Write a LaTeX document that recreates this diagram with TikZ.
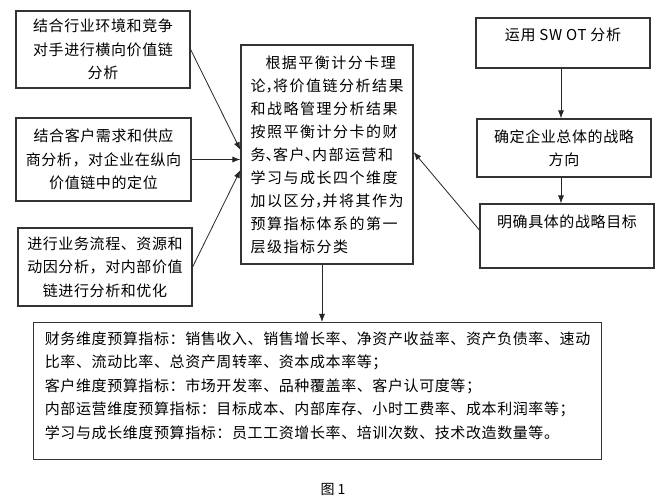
\documentclass[tikz,border=0pt]{standalone}
\usepackage{fontspec}
\setmainfont{Noto Sans CJK SC}
\newfontfamily\boxfont[LetterSpace=4]{Noto Sans CJK SC}
\newfontfamily\widefont[LetterSpace=10]{Noto Sans CJK SC}
\usetikzlibrary{arrows.meta}
\newcommand{\halfpunct}[1]{\makebox[0.5em][l]{#1}}
\tikzset{
	box/.style={draw=black!80, line width=1.2pt, align=center, inner sep=0pt,
		font=\boxfont\fontsize{15pt}{23.5pt}\selectfont},
	arr/.style={-{Latex[length=8pt,width=6pt]}, line width=0.8pt, draw=black!85},
}

\begin{document}
\begin{tikzpicture}[x=1pt, y=-1pt]
			%%%%% START %%%%%
			\path[use as bounding box, fill=white] (0, 0) rectangle (657, 500);
			
			%%%%% LEFT %%%%%
			\node[box, minimum width=174pt, minimum height=77pt] (hori) at (103, 49.5) {结合行业环境和竞争\\对手进行横向价值链\\分析};
			\node[box, minimum width=175pt, minimum height=83pt] (vert) at (103.5, 159.5) {结合客户需求和供应\\商分析，对企业在纵向\\价值链中的定位};
			\node[box, minimum width=174pt, minimum height=78pt] (inner) at (105, 267) {进行业务流程、资源和\\动因分析，对内部价值\\链进行分析和优化};
			
			%%%%% CENTER %%%%%
			\node[box, minimum width=172pt, minimum height=219pt, align=left,
				font=\widefont\fontsize{15pt}{23pt}\selectfont] (core) at (327, 154.5)
				{\hspace*{1em}根据平衡计分卡理\\论\halfpunct{，}将价值链分析结果\\和战略管理分析结果\\按照平衡计分卡的财\\务\halfpunct{、}客户\halfpunct{、}内部运营和\\学习与成长四个维度\\加以区分\halfpunct{，}并将其作为\\预算指标体系的第一\\层级指标分类};
			
			%%%%% RIGHT %%%%%
			\node[box, minimum width=174pt, minimum height=50pt, text depth=18pt] (swot) at (563, 43) {运用 SW OT 分析};
			\node[box, minimum width=174pt, minimum height=58pt] (dir) at (564, 148) {确定企业总体的战略\\方向};
			\node[box, minimum width=174pt, minimum height=64pt, text depth=30pt] (goal) at (567, 236) {明确具体的战略目标};
			
			%%%%% BOTTOM %%%%%
			\node[box, anchor=north west, minimum width=568pt, align=left, inner xsep=8pt, inner ysep=9pt, text depth=12pt] (indic) at (33, 322)
				{财务维度预算指标：销售收入、销售增长率、净资产收益率、资产负债率、速动\\比率、流动比率、总资产周转率、资本成本率等；\\客户维度预算指标：市场开发率、品种覆盖率、客户认可度等；\\内部运营维度预算指标：目标成本、内部库存、小时工费率、成本利润率等；\\学习与成长维度预算指标：员工工资增长率、培训次数、技术改造数量等。};
			
			\node[font=\fontsize{14pt}{16pt}\selectfont] (cap) at (333, 489) {图 1};
			
			%%%%% ARROWS %%%%%
			\draw[arr] (hori.east) -- ([yshift=4.5pt]core.west);
			\draw[arr] (vert.east) -- (vert.east -| core.west);
			\draw[arr] (inner.east) -- ([yshift=-15.5pt]core.west);
			\draw[arr] ([yshift=6pt]goal.west) -- ([yshift=2.5pt]core.east);
			\draw[arr] ([xshift=-2pt]swot.south) -- ([xshift=-2pt]swot.south |- dir.north);
			\draw[arr] ([xshift=-2pt]swot.south |- dir.south) -- ([xshift=-2pt]swot.south |- goal.north);
			\draw[arr] ([xshift=-5pt]core.south) -- ([xshift=-5pt]core.south |- indic.north);
			
			%%%%% END %%%%%
\end{tikzpicture}
\end{document}
